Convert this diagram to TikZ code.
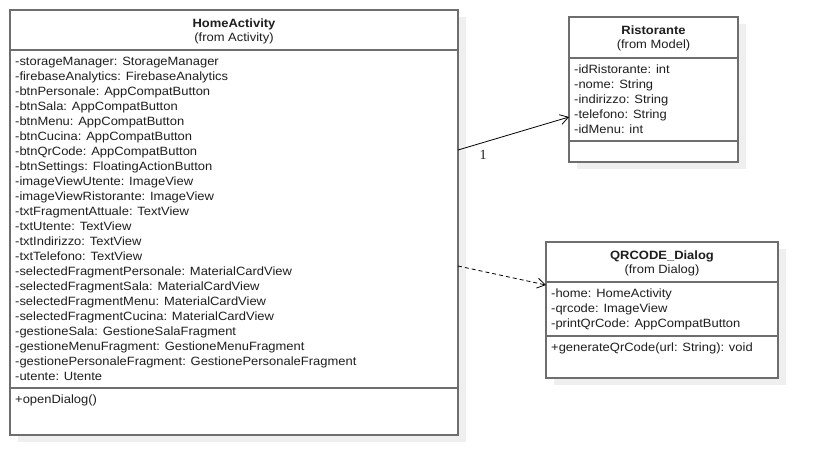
\documentclass[tikz,border=0pt]{standalone}
\usepackage{fontspec}
\setmainfont{Liberation Sans}[FakeStretch=1.08]
\newfontfamily\numfont{Liberation Serif}
\usetikzlibrary{arrows.meta,calc}
\definecolor{boxline}{HTML}{6E6E6E}
\definecolor{shadowc}{HTML}{EFEFEF}
\definecolor{txt}{HTML}{1E1E1E}
\begin{document}
\begin{tikzpicture}[x=1pt,y=-1pt,
 classbox/.style={draw=boxline, line width=1.6pt, fill=white, inner sep=0pt, outer sep=0pt, anchor=north west},
 shadowbox/.style={fill=shadowc, draw=none, inner sep=0pt, outer sep=0pt, anchor=north west},
 sepline/.style={draw=boxline, line width=1.4pt},
 attr/.style={anchor=base west, inner sep=0pt, font=\fontsize{12}{15}\selectfont, text=txt},
 ctitle/.style={anchor=base, inner sep=0pt, font=\fontsize{12}{15}\selectfont\bfseries, text=txt},
 cfrom/.style={anchor=base, inner sep=0pt, font=\fontsize{12}{15}\selectfont, text=txt},
 conn/.style={draw=black, line width=0.8pt, -{Straight Barb[length=8pt,width=10pt]}},
 mult/.style={inner sep=0pt, font=\numfont\fontsize{14}{16}\selectfont, text=txt}
]
\useasboundingbox[fill=white] (0,0) rectangle (818,475);

% shadows
\node[shadowbox, minimum width=448pt, minimum height=425pt] (homesh) at (18,17) {};
\node[shadowbox, minimum width=169pt, minimum height=145pt] (ristsh) at (577,24) {};
\node[shadowbox, minimum width=232pt, minimum height=136pt] (qrsh) at (554,249) {};

% HomeActivity
\node[classbox, minimum width=448pt, minimum height=425pt] (home) at (10,10) {};
\draw[sepline] ($(home.north west)+(0,40)$) -- ($(home.north east)+(0,40)$);
\draw[sepline] ($(home.north west)+(0,378)$) -- ($(home.north east)+(0,378)$);
\node[ctitle] (hometitle) at ($(home.north)+(0,17)$) {HomeActivity};
\node[cfrom] (homefrom) at ($(home.north)+(0,31)$) {(from Activity)};
\foreach \t [count=\i from 0] in {-storageManager: StorageManager,
 -firebaseAnalytics: FirebaseAnalytics,
 -btnPersonale: AppCompatButton,
 -btnSala: AppCompatButton,
 -btnMenu: AppCompatButton,
 -btnCucina: AppCompatButton,
 -btnQrCode: AppCompatButton,
 -btnSettings: FloatingActionButton,
 -imageViewUtente: ImageView,
 -imageViewRistorante: ImageView,
 -txtFragmentAttuale: TextView,
 -txtUtente: TextView,
 -txtIndirizzo: TextView,
 -txtTelefono: TextView,
 -selectedFragmentPersonale: MaterialCardView,
 -selectedFragmentSala: MaterialCardView,
 -selectedFragmentMenu: MaterialCardView,
 -selectedFragmentCucina: MaterialCardView,
 -gestioneSala: GestioneSalaFragment,
 -gestioneMenuFragment: GestioneMenuFragment,
 -gestionePersonaleFragment: GestionePersonaleFragment,
 -utente: Utente}
  \node[attr] (ha\i) at ($(home.north west)+(5,55+15*\i)$) {\t};
\node[attr] (hm0) at ($(home.north west)+(5,393)$) {+openDialog()};

% Ristorante
\node[classbox, minimum width=169pt, minimum height=145pt] (rist) at (569,17) {};
\draw[sepline] ($(rist.north west)+(0,41)$) -- ($(rist.north east)+(0,41)$);
\draw[sepline] ($(rist.north west)+(0,124)$) -- ($(rist.north east)+(0,124)$);
\node[ctitle] (risttitle) at ($(rist.north)+(0,17)$) {Ristorante};
\node[cfrom] (ristfrom) at ($(rist.north)+(0,31)$) {(from Model)};
\foreach \t [count=\i from 0] in {-idRistorante: int,
 -nome: String,
 -indirizzo: String,
 -telefono: String,
 -idMenu: int}
  \node[attr] (ra\i) at ($(rist.north west)+(5,56+15*\i)$) {\t};

% QRCODE_Dialog
\node[classbox, minimum width=232pt, minimum height=136pt] (qr) at (546,242) {};
\draw[sepline] ($(qr.north west)+(0,40)$) -- ($(qr.north east)+(0,40)$);
\draw[sepline] ($(qr.north west)+(0,94)$) -- ($(qr.north east)+(0,94)$);
\node[ctitle] (qrtitle) at ($(qr.north)+(0,17)$) {QRCODE\_Dialog};
\node[cfrom] (qrfrom) at ($(qr.north)+(0,31)$) {(from Dialog)};
\foreach \t [count=\i from 0] in {-home: HomeActivity,
 -qrcode: ImageView,
 -printQrCode: AppCompatButton}
  \node[attr] (qa\i) at ($(qr.north west)+(5,55+15*\i)$) {\t};
\node[attr] (qm0) at ($(qr.north west)+(5,109)$) {+generateQrCode(url: String): void};

% connectors
\coordinate (assocstart) at ($(home.north east)+(0,140)$);
\coordinate (assocend) at ($(rist.north west)+(0,100)$);
\draw[conn] (assocstart) -- (assocend);
\node[mult] (mult1) at (483,155) {1};

\coordinate (depstart) at ($(home.north east)+(0,256)$);
\coordinate (depend) at ($(qr.north west)+(0,43)$);
\draw[conn, dash pattern=on 4pt off 3pt] (depstart) -- (depend);
\end{tikzpicture}
\end{document}
